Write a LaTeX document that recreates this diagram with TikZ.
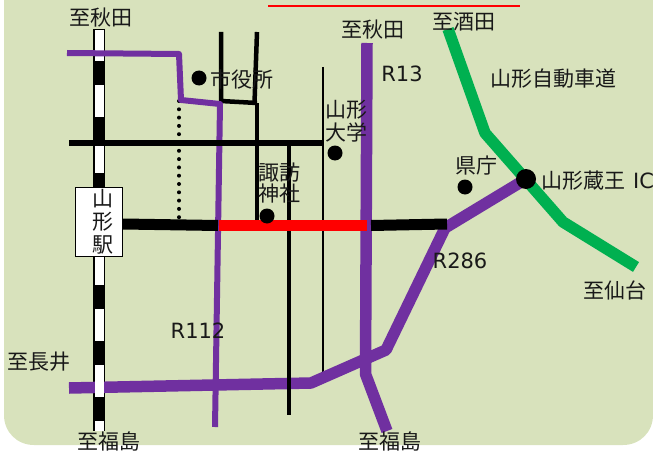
\documentclass[tikz,border=0pt]{standalone}
\usepackage{fontspec}
\setmainfont{DejaVu Sans}
\newfontfamily\cjk{Noto Sans CJK JP}
\definecolor{bgc}{HTML}{D8E2BC}
\definecolor{purp}{HTML}{7030A0}
\definecolor{grn}{HTML}{00B050}
\tikzset{
 x=1pt,y=-1pt,
 lab/.style={inner sep=0pt,font=\fontsize{21}{21}\selectfont\cjk,text=black!90},
 latin/.style={inner sep=0pt,font=\fontsize{21}{21}\selectfont,text=black!90},
 rd/.style={line join=round},
 proad/.style={draw=purp,line width=11.5pt,rd},
 pthin/.style={draw=purp,line width=6pt,rd},
 groad/.style={draw=grn,line width=11.5pt,rd},
 bk/.style={draw=black,rd},
 spot/.style={circle,fill=black,inner sep=0pt,minimum size=15pt},
}
\begin{document}
\begin{tikzpicture}
\useasboundingbox (0,0) rectangle (653,452);
% background
\fill[bgc] (4,0) -- (653,0) -- (653,415) .. controls (653,432) and (640,445) .. (623,445) -- (34,445) .. controls (17,445) and (4,432) .. (4,415) -- cycle;
\draw[red,line width=2pt] (268,6) -- (520,6);
% thin streets
\draw[bk,line width=2.3pt] (323,67) -- (323,372);
\draw[bk,line width=4.5pt] (221,32) -- (221,101) -- (257,103);
\draw[bk,line width=4.5pt] (257,32) -- (254.5,103);
\draw[bk,line width=4.5pt] (257,103) -- (257,222);
\draw[black,line width=4pt,line cap=round,dash pattern=on 0pt off 8.3pt] (179,101) -- (179,220);
% railway
\draw[black,line width=11.5pt] (99,29) -- (99,431);
\draw[white,line width=9pt] (99,30) -- (99,61);
\draw[white,line width=9pt] (99,85) -- (99,117);
\draw[white,line width=9pt] (99,146) -- (99,173);
\draw[white,line width=9pt] (99,257) -- (99,285);
\draw[white,line width=9pt] (99,309) -- (99,341);
% purple roads
\draw[pthin] (67,53) -- (179,54) -- (181,100) -- (220,104) -- (215,427);
\draw[proad] (69,388) -- (311,383) -- (386,350) -- (445,228) -- (526,179);
\draw[white,line width=9pt] (99,365) -- (99,397);
\draw[white,line width=9pt] (99,421) -- (99,431);
\draw[bk,line width=4.5pt] (289,143) -- (289,415);
\draw[bk,line width=5.5pt] (69,143) -- (323,143);
\draw[proad] (367,43) -- (365.5,374) -- (387,431);
% green expressway
\draw[groad] (448,29) -- (485,133) -- (563,222) -- (636,267);
% main street
\draw[black,line width=11pt] (123,224) -- (218,225.5);
\draw[black,line width=11pt] (371,225.5) -- (447,224);
\fill[red] (219,220) rectangle (367,231);
% spots
\node[spot] (city) at (199,78) {};
\node[spot] (shrine) at (267,216) {};
\node[spot] (univ) at (335,153) {};
\node[spot] (pref) at (465,187) {};
\node[spot,minimum size=20pt] (ic) at (526,179) {};
% station
\node[draw=black,line width=1.5pt,fill=white,minimum width=47pt,minimum height=69pt,inner sep=0pt] (station) at (99,222) {};
\node[lab] (st1) at (103,199) {山};
\node[lab] (st2) at (103,222) {形};
\node[lab] (st3) at (103,245) {駅};
% labels
\node[lab] (l1) at (101,18) {至秋田};
\node[lab] (l2) at (242,79) {市役所};
\node[lab] (l3) at (373,30) {至秋田};
\node[latin] (l4) at (402,74) {R13};
\node[lab] (l5) at (464,22) {至酒田};
\node[lab] (l6) at (553,79) {山形自動車道};
\node[lab] (l7) at (346,110) {山形};
\node[lab] (l8) at (346,132) {大学};
\node[lab] (l9) at (476,166) {県庁};
\node[lab] (l10) at (279,173) {諏訪};
\node[lab] (l11) at (279,194) {神社};
\node[lab,anchor=west] (l12) at (541,181) {山形蔵王\kern8pt{\fontspec{DejaVu Sans}IC}};
\node[latin] (l13) at (460,261) {R286};
\node[lab] (l14) at (615,290) {至仙台};
\node[latin] (l15) at (198,331) {R112};
\node[lab] (l16) at (39,362) {至長井};
\node[lab] (l17) at (109,441) {至福島};
\node[lab] (l18) at (390,441) {至福島};
\end{tikzpicture}
\end{document}
